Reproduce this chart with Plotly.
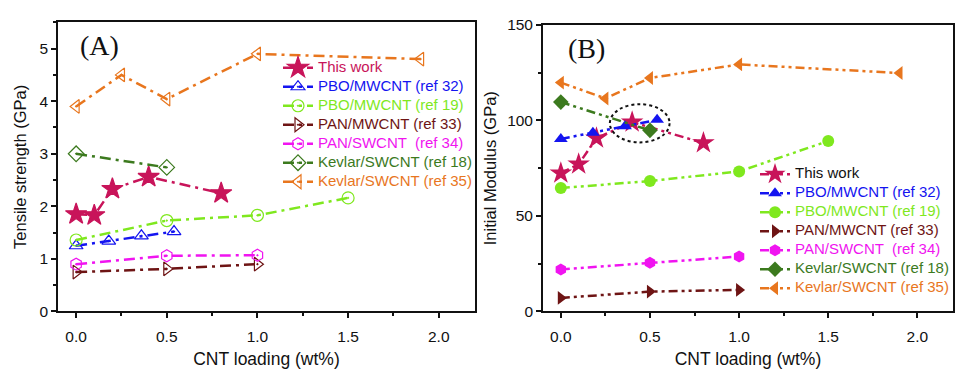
import plotly.graph_objects as go

# ---------------- data ----------------
names = ["This work", "PBO/MWCNT (ref 32)", "PBO/MWCNT (ref 19)", "PAN/MWCNT (ref 33)",
         "PAN/SWCNT  (ref 34)", "Kevlar/SWCNT (ref 18)", "Kevlar/SWCNT (ref 35)"]
colors = ["#C8145A", "#1414F0", "#7FE81E", "#6E1414", "#F014F0", "#3C7A1E", "#E8761E"]
legend_text_colors_b = ["#111111", "#1414F0", "#7FE81E", "#6E1414", "#F014F0", "#3C7A1E", "#E8761E"]

x_this = [0.0, 0.1, 0.2, 0.4, 0.8]
x_pbo32 = [0.0, 0.18, 0.36, 0.54]
x_pbo19 = [0.0, 0.5, 1.0, 1.5]
x_pan33 = [0.0, 0.5, 1.0]
x_pan34 = [0.0, 0.5, 1.0]
x_kev18 = [0.0, 0.5]
x_kev35 = [0.0, 0.25, 0.5, 1.0, 1.9]

# Tensile strength (GPa)
ts_this = [1.85, 1.83, 2.33, 2.56, 2.25]
ts_pbo32 = [1.25, 1.34, 1.44, 1.52]
ts_pbo19 = [1.36, 1.73, 1.83, 2.16]
ts_pan33 = [0.75, 0.81, 0.90]
ts_pan34 = [0.90, 1.06, 1.07]
ts_kev18 = [3.00, 2.74]
ts_kev35 = [3.90, 4.50, 4.04, 4.90, 4.80]

# Initial modulus (GPa)
im_this = [72.4, 77.1, 90.7, 99.1, 88.2]
im_pbo32 = [90.3, 93.6, 97.0, 100.3]
im_pbo19 = [64.6, 68.3, 73.3, 89.2]
im_pan33 = [7.1, 10.4, 11.3]
im_pan34 = [22.0, 25.5, 28.8]
im_kev18 = [109.6, 94.8]
im_kev35 = [119.8, 111.5, 122.2, 129.3, 124.8]

xs = [x_this, x_pbo32, x_pbo19, x_pan33, x_pan34, x_kev18, x_kev35]
ts = [ts_this, ts_pbo32, ts_pbo19, ts_pan33, ts_pan34, ts_kev18, ts_kev35]
im = [im_this, im_pbo32, im_pbo19, im_pan33, im_pan34, im_kev18, im_kev35]

symbols_a = ["star", "triangle-up-open-dot", "circle-open-dot", "triangle-right-open-dot",
             "hexagon-open-dot", "diamond-open-dot", "triangle-left-open-dot"]
symbols_b = ["star", "triangle-up", "circle", "triangle-right", "hexagon", "diamond", "triangle-left"]

fig = go.Figure()

dash_a = "11px,5px,3px,5px"
dash_b = "9px,4px,3px,4px,3px,4px"
LEG_TXT = "font-size:15px"

for i in range(7):
    fig.add_trace(go.Scatter(
        x=xs[i], y=ts[i], mode="lines+markers",
        name=f"<span style='color:{colors[i]};{LEG_TXT}'>{names[i]}</span>",
        line=dict(color=colors[i], width=2.5, dash=dash_a),
        marker=dict(symbol=symbols_a[i], size=16 if i == 0 else 12, color=colors[i],
                    line=dict(color=colors[i], width=1.2)),
        xaxis="x", yaxis="y", legend="legend"))

for i in range(7):
    fig.add_trace(go.Scatter(
        x=xs[i], y=im[i], mode="lines+markers",
        name=f"<span style='color:{legend_text_colors_b[i]};{LEG_TXT}'>{names[i]}</span>",
        line=dict(color=colors[i], width=2.5, dash=dash_b),
        marker=dict(symbol=symbols_b[i], size=17 if i == 0 else 12, color=colors[i],
                    line=dict(color=colors[i], width=0)),
        xaxis="x2", yaxis="y2", legend="legend2"))

H = 369.0
W = 956.0
FAM = "Liberation Sans, Arial, sans-serif"
tick_font = dict(family=FAM, size=15.5, color="#111111")
xtitle_font = dict(family=FAM, size=17.5, color="#111111")
ytitle_font = dict(family=FAM, size=16.5, color="#111111")

common_x = dict(range=[-0.1, 2.2], tickvals=[0, 0.5, 1.0, 1.5, 2.0],
                ticktext=["0.0", "0.5", "1.0", "1.5", "2.0"],
                showgrid=False, zeroline=False, showline=True, mirror=True,
                linecolor="#111111", linewidth=1.8, ticks="outside", ticklen=5,
                tickwidth=1.5, tickcolor="#111111", ticklabelstandoff=5,
                minor=dict(dtick=0.25, tick0=0, ticks="outside", ticklen=3, tickwidth=1.5,
                           tickcolor="#111111"),
                tickfont=tick_font, title=dict(text="CNT loading (wt%)", font=xtitle_font, standoff=12))

fig.update_layout(
    width=956, height=369,
    margin=dict(l=0, r=0, t=0, b=0),
    paper_bgcolor="white", plot_bgcolor="white",
    showlegend=True,
    xaxis=dict(domain=[58 / W, 475 / W], anchor="y", **common_x),
    xaxis2=dict(domain=[543 / W, 953 / W], anchor="y2", **common_x),
    yaxis=dict(domain=[1 - 318 / H, 1 - 14 / H], anchor="x", range=[0, 5.5],
               tickvals=[0, 1, 2, 3, 4, 5], showgrid=False, zeroline=False,
               showline=True, mirror=True, linecolor="#111111", linewidth=1.8,
               ticks="outside", ticklen=5, tickwidth=1.5, tickcolor="#111111",
               minor=dict(dtick=0.5, tick0=0, ticks="outside", ticklen=3, tickwidth=1.5,
                          tickcolor="#111111"),
               tickfont=tick_font,
               title=dict(text="Tensile strength (GPa)", font=ytitle_font, standoff=9)),
    yaxis2=dict(domain=[1 - 318 / H, 1 - 16.7 / H], anchor="x2", range=[0, 150],
                tickvals=[0, 50, 100, 150], showgrid=False, zeroline=False,
                showline=True, mirror=True, linecolor="#111111", linewidth=1.8,
                ticks="outside", ticklen=5, tickwidth=1.5, tickcolor="#111111",
                minor=dict(dtick=25, tick0=0, ticks="outside", ticklen=3, tickwidth=1.5,
                           tickcolor="#111111"),
                tickfont=tick_font,
                title=dict(text="Initial Modulus (GPa)", font=ytitle_font, standoff=6)),
    legend=dict(x=278 / W, y=1 - 46.5 / H, xanchor="left", yanchor="top",
                bgcolor="rgba(0,0,0,0)", borderwidth=0, tracegroupgap=0,
                itemwidth=30,
                font=dict(family=FAM, size=10.2)),
    legend2=dict(x=755 / W, y=1 - 158.5 / H, xanchor="left", yanchor="top",
                 bgcolor="rgba(0,0,0,0)", borderwidth=0, tracegroupgap=0,
                 itemwidth=30,
                 font=dict(family=FAM, size=10.2)),
    shapes=[dict(type="circle", xref="x2", yref="y2", x0=0.275, x1=0.61, y0=88.5, y1=108.5,
                 line=dict(color="#111111", width=2, dash="dot"))],
    annotations=[
        dict(text="(A)", x=78 / W, y=1 - 38 / H, xref="paper", yref="paper",
             xanchor="left", yanchor="middle", showarrow=False,
             font=dict(family="Liberation Serif, Times New Roman, serif", size=28, color="#111111")),
        dict(text="(B)", x=566 / W, y=1 - 41 / H, xref="paper", yref="paper",
             xanchor="left", yanchor="middle", showarrow=False,
             font=dict(family="Liberation Serif, Times New Roman, serif", size=28, color="#111111")),
    ],
)

fig.write_html("out.html")
